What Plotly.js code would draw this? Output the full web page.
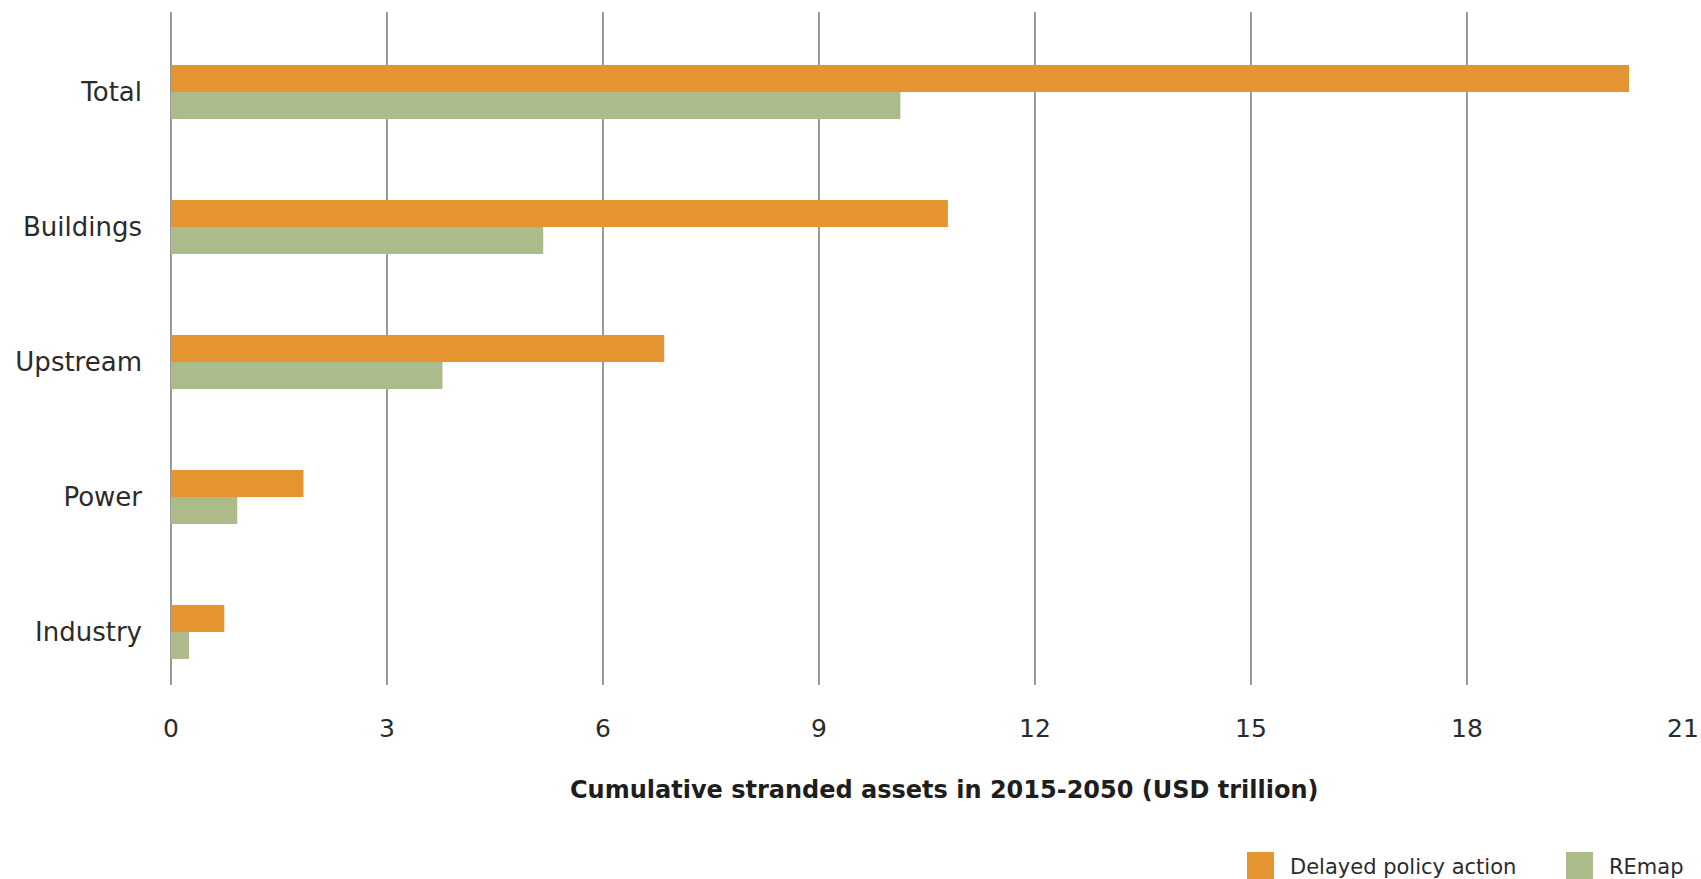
<!DOCTYPE html>
<html><head><meta charset="utf-8">
<script src="https://cdn.plot.ly/plotly-3.0.1.min.js"></script>
<style>html,body{margin:0;padding:0;background:#fff}#chart{width:1701px;height:879px}</style>
</head><body><div id="chart"></div>
<script>
const categories = ["Industry", "Power", "Upstream", "Buildings", "Total"];
const delayed = [0.74, 1.84, 6.85, 10.79, 20.25];
const remap = [0.25, 0.92, 3.77, 5.17, 10.13];
const seriesNames = ["Delayed policy action", "REmap"];
const xTicks = [0, 3, 6, 9, 12, 15, 18, 21];
const axisTitle = "Cumulative stranded assets in 2015-2050 (USD trillion)";

const W = 1701, H = 879, L = 171, R = 18, T = 12, B = 194;
const PW = W - L - R, PH = H - T - B;
const px = x => (x - L) / PW;
const py = y => (H - B - y) / PH;
const orange = "#E49531", green = "#ABBC8A";
const FONT = "'DejaVu Sans', sans-serif";
const idx = categories.map((c, i) => i);

const data = [
  {type: "bar", orientation: "h", y: idx, x: delayed, name: seriesNames[0],
   width: 0.2, offset: 0, marker: {color: orange}, showlegend: false, hoverinfo: "x"},
  {type: "bar", orientation: "h", y: idx, x: remap, name: seriesNames[1],
   width: 0.2, offset: -0.2, marker: {color: green}, showlegend: false, hoverinfo: "x"}
];

const layout = {
  width: W, height: H,
  margin: {l: L, r: R, t: T, b: B},
  paper_bgcolor: "#fff", plot_bgcolor: "#fff",
  barmode: "overlay",
  font: {family: FONT, color: "#2b2b2b"},
  xaxis: {range: [0, 21], tickvals: xTicks, ticktext: xTicks.map(String),
    showgrid: true, gridcolor: "#9a9a9a", gridwidth: 2,
    zeroline: true, zerolinecolor: "#9a9a9a", zerolinewidth: 2,
    showline: false, ticks: "", ticklabelstandoff: 26,
    tickfont: {size: 25, family: FONT, color: "#2b2b2b"}, fixedrange: true},
  yaxis: {range: [-0.393, 4.593], tickvals: idx, ticktext: categories,
    showgrid: false, zeroline: false, showline: false, ticks: "",
    ticklabelstandoff: 28,
    tickfont: {size: 26, family: FONT, color: "#2b2b2b"}, fixedrange: true},
  shapes: [
    {type: "rect", xref: "paper", yref: "paper", x0: px(1247), x1: px(1274), y0: py(852), y1: py(880),
     fillcolor: orange, line: {width: 0}},
    {type: "rect", xref: "paper", yref: "paper", x0: px(1566), x1: px(1593), y0: py(852), y1: py(880),
     fillcolor: green, line: {width: 0}}
  ],
  annotations: [
    {xref: "paper", yref: "paper", x: px(944), y: py(790), text: "<b>" + axisTitle + "</b>",
     showarrow: false, xanchor: "center", yanchor: "middle",
     font: {size: 24, family: FONT, color: "#1e1e1e"}},
    {xref: "paper", yref: "paper", x: px(1288), y: py(867), text: seriesNames[0],
     showarrow: false, xanchor: "left", yanchor: "middle",
     font: {size: 21, family: FONT, color: "#2b2b2b"}},
    {xref: "paper", yref: "paper", x: px(1607), y: py(867), text: seriesNames[1],
     showarrow: false, xanchor: "left", yanchor: "middle",
     font: {size: 21, family: FONT, color: "#2b2b2b"}}
  ]
};

Plotly.newPlot("chart", data, layout, {displayModeBar: false, staticPlot: true});
</script></body></html>
